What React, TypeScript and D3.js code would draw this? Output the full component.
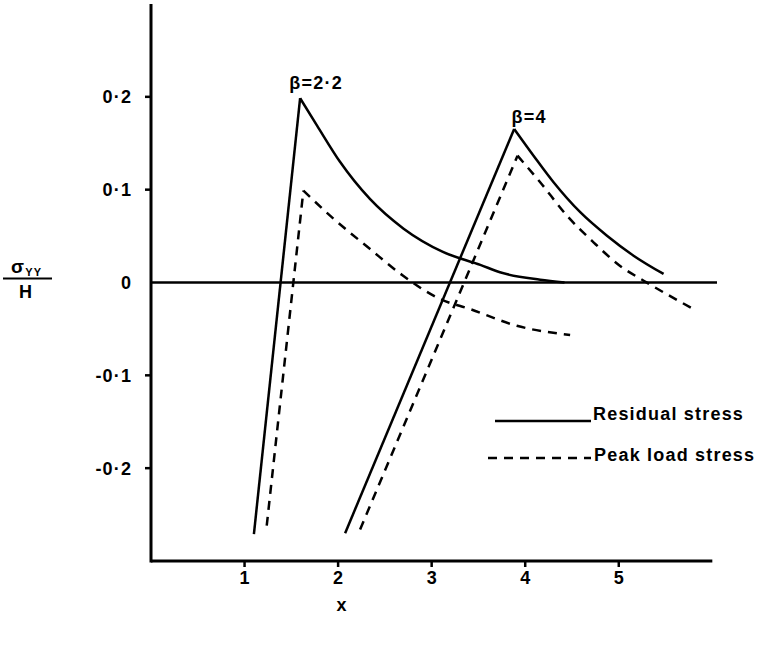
import React from 'react';
import * as d3 from 'd3';

type Pt = [number, number];

// tick values and labels
const xTicks = [1, 2, 3, 4, 5];
const yTicks = [0.2, 0.1, 0, -0.1, -0.2];
const yTickLabels = ['0·2', '0·1', '0', '-0·1', '-0·2'];

// first point = bottom of the rise, second = peak, rest = decay
const residual22: Pt[] = [
  [1.1, -0.271], [1.594, 0.1985], [1.775, 0.169], [2.02, 0.13], [2.34, 0.09],
  [2.7, 0.058], [3.12, 0.033], [3.52, 0.019], [3.73, 0.011], [4.16, 0.003], [4.42, 0.0],
];
const peak22: Pt[] = [
  [1.237, -0.262], [1.629, 0.099], [1.914, 0.072], [2.342, 0.036], [2.695, 0.0073],
  [3.09, -0.0178], [3.41, -0.0286], [3.91, -0.0466], [4.48, -0.0566],
];
const residual4: Pt[] = [
  [2.075, -0.27], [3.882, 0.1654], [4.089, 0.1366], [4.303, 0.108], [4.588, 0.0757],
  [4.874, 0.0504], [5.158, 0.0289], [5.479, 0.0092],
];
const peak4: Pt[] = [
  [2.235, -0.266], [3.918, 0.1366], [4.16, 0.108], [4.446, 0.072], [4.73, 0.0433],
  [5.011, 0.0181], [5.296, 0.0002], [5.83, -0.0304],
];

const FONT = '"Liberation Sans", Arial, sans-serif';
const FS = 18;
const LS = 1.2;

const App: React.FC = () => {
  const width = 768;
  const height = 645;

  const x = d3.scaleLinear().domain([0, 6.05]).range([151, 717]);
  const y = d3.scaleLinear().domain([-0.3, 0.3]).range([561, 4]);

  const rise = d3.line<Pt>().x((d) => x(d[0])).y((d) => y(d[1]));
  const decay = d3
    .line<Pt>()
    .x((d) => x(d[0]))
    .y((d) => y(d[1]))
    .curve(d3.curveMonotoneX);

  const series = [
    { pts: residual22, dash: undefined },
    { pts: peak22, dash: '9 7' },
    { pts: residual4, dash: undefined },
    { pts: peak4, dash: '9 7' },
  ];

  return (
    <svg
      width={width}
      height={height}
      style={{ position: 'absolute', left: 0, top: 0, background: '#fff' }}
      fontFamily={FONT}
      fontWeight="bold"
      fontSize={FS}
      letterSpacing={LS}
    >
      {/* axes */}
      <line x1={x(0)} x2={x(0)} y1={y(0.3)} y2={y(-0.3) + 1.5} stroke="#000" strokeWidth={3} />
      <line x1={x(0)} x2={x(6.0)} y1={y(-0.3)} y2={y(-0.3)} stroke="#000" strokeWidth={3} />
      <line x1={x(0)} x2={x(6.05)} y1={y(0)} y2={y(0)} stroke="#000" strokeWidth={2.5} />

      {yTicks.map((t, i) => (
        <g key={t}>
          {t !== 0 && (
            <line x1={x(0) - 6} x2={x(0)} y1={y(t)} y2={y(t)} stroke="#000" strokeWidth={2.5} />
          )}
          <text x={131 + LS} y={y(t)} dy="0.36em" textAnchor="end">
            {yTickLabels[i]}
          </text>
        </g>
      ))}

      {xTicks.map((t) => (
        <g key={t}>
          <line x1={x(t)} x2={x(t)} y1={y(-0.3)} y2={y(-0.3) + 6} stroke="#000" strokeWidth={2.5} />
          <text x={x(t) + LS / 2} y={584} textAnchor="middle">
            {t}
          </text>
        </g>
      ))}
      <text x={342} y={611} textAnchor="middle">x</text>

      {/* y label: sigma_YY / H */}
      <text x={11} y={273} fontSize={19}>
        σ
        <tspan fontSize={11} dy={3}>YY</tspan>
      </text>
      <line x1={3} x2={52} y1={278.5} y2={278.5} stroke="#000" strokeWidth={2} />
      <text x={26} y={298} textAnchor="middle">H</text>

      {/* curves */}
      {series.map((s, i) => (
        <g key={i} fill="none" stroke="#000" strokeWidth={2.5} strokeDasharray={s.dash}>
          <path d={rise(s.pts.slice(0, 2)) ?? ''} />
          <path d={decay(s.pts.slice(1)) ?? ''} />
        </g>
      ))}

      {/* beta labels */}
      <text x={x(residual22[1][0]) + 16} y={89} textAnchor="middle">β=2·2</text>
      <text x={x(residual4[1][0]) + 15} y={123} textAnchor="middle">β=4</text>

      {/* legend */}
      <line x1={495} x2={591} y1={421} y2={421} stroke="#000" strokeWidth={2.5} />
      <text x={593} y={420}>Residual stress</text>
      <line x1={488} x2={591} y1={458} y2={458} stroke="#000" strokeWidth={2.5} strokeDasharray="9 7" />
      <text x={594} y={461}>Peak load stress</text>
    </svg>
  );
};

export default App;
